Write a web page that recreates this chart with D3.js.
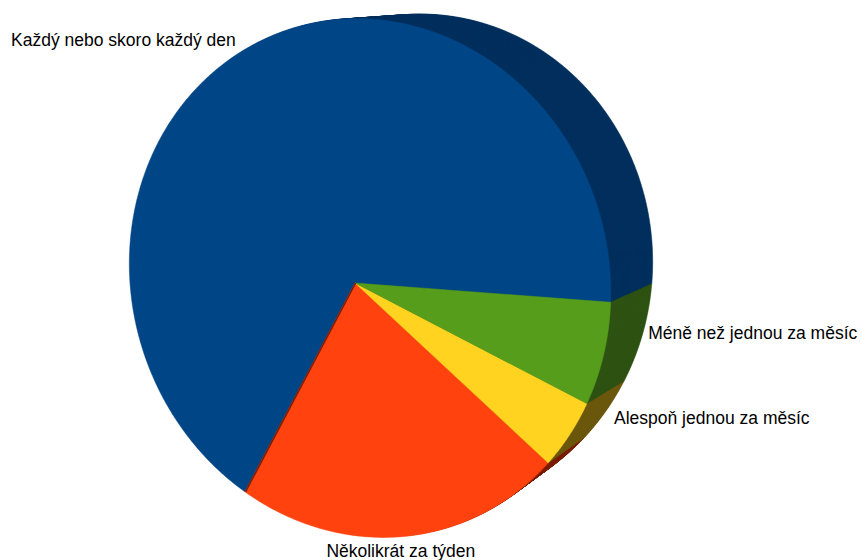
<!DOCTYPE html>
<html>
<head>
<meta charset="utf-8">
<script src="https://cdn.jsdelivr.net/npm/d3@7"></script>
<style>
  html, body { margin: 0; padding: 0; background: #ffffff; }
  svg { display: block; }
</style>
</head>
<body>
<svg id="chart" width="862" height="560"></svg>
<script>
// Answer categories and their shares (%)
const categories = [
  "Každý nebo skoro každý den",
  "Několikrát za týden",
  "Alespoň jednou za měsíc",
  "Méně než jednou za měsíc"
];
const shares = [67.2, 22.2, 4.4, 6.2];
const faceColors = ["#004586", "#ff420e", "#ffd320", "#579d1c"];
const sideColors = ["#022f5d", "#7a1f06", "#6b580e", "#2e5213"];

// Geometry of the tilted 3D disc
const cx = 355, cy = 283, radius = 261;
const tiltY = 23.5 * Math.PI / 180;   // turn about the vertical axis
const tiltX = 7.5 * Math.PI / 180;    // turn about the horizontal axis
const persp = 0.16;                   // radius / camera distance
const layers = 40;

// Back face = affine image of the front face (receding up and to the right)
const back = { a: 0.9663, c: -0.0458, e: 75.5, b: -0.0063, d: 0.9567, f: -1.5 };
function toBack(p) {
  return [back.a * p[0] + back.c * p[1] + back.e,
          back.b * p[0] + back.d * p[1] + back.f];
}

// Project a point of the unit disc (angle clockwise from 3 o'clock, radial fraction r)
function project(theta, r) {
  const lx = r * Math.cos(theta), ly = r * Math.sin(theta);
  const y1 = ly * Math.cos(tiltX), z1 = -ly * Math.sin(tiltX);
  const x2 = lx * Math.cos(tiltY) - z1 * Math.sin(tiltY);
  const z2 = lx * Math.sin(tiltY) + z1 * Math.cos(tiltY);
  const k = 1 / (1 - z2 * persp);
  return [cx + radius * x2 * k, cy + radius * y1 * k];
}
const toTheta = a => a - Math.PI / 2;   // d3.pie angle -> screen angle

const data = categories.map((c, i) => ({ name: c, value: shares[i], i }));
const start = (4 + 90) * Math.PI / 180;
const pie = d3.pie().sort(null).value(d => d.value)
  .startAngle(start).endAngle(start - 2 * Math.PI);
const arcs = pie(data);

const line = d3.line();
// Outline of a slice at depth t (0 = front face, 1 = back face)
function slicePoints(d, t) {
  const n = Math.max(2, Math.ceil(Math.abs(d.endAngle - d.startAngle) / (Math.PI / 360)));
  const raw = [[cx, cy]];
  for (let j = 0; j <= n; j++) {
    const a = d.startAngle + (d.endAngle - d.startAngle) * j / n;
    raw.push(project(toTheta(a), 1));
  }
  if (t === 0) return raw;
  return raw.map(p => {
    const q = toBack(p);
    return [p[0] + (q[0] - p[0]) * t, p[1] + (q[1] - p[1]) * t];
  });
}

const svg = d3.select("#chart");

// Extruded body: stacked copies from the back face forward
const body = svg.append("g").attr("class", "body");
for (let s = layers; s >= 1; s--) {
  const t = s / layers;
  body.append("g").selectAll("path")
    .data(arcs)
    .join("path")
    .attr("d", d => line(slicePoints(d, t)) + "Z")
    .attr("fill", d => sideColors[d.data.i])
    .attr("stroke", d => sideColors[d.data.i])
    .attr("stroke-width", 0.6);
}

// Front faces
svg.append("g").attr("class", "faces").selectAll("path")
  .data(arcs)
  .join("path")
  .attr("d", d => line(slicePoints(d, 0)) + "Z")
  .attr("fill", d => faceColors[d.data.i])
  .attr("stroke", d => faceColors[d.data.i])
  .attr("stroke-width", 0.5);

// Dark wall edge along the leading side of the second slice
const edgeSlice = arcs[1];
const edgeEnd = project(toTheta(edgeSlice.startAngle), 1);
svg.append("line")
  .attr("x1", cx + 0.6).attr("y1", cy)
  .attr("x2", edgeEnd[0] + 0.6).attr("y2", edgeEnd[1])
  .attr("stroke", sideColors[1])
  .attr("stroke-width", 1.6);

// Labels
svg.append("g").attr("class", "labels").selectAll("text")
  .data(arcs)
  .join("text")
  .each(function (d) {
    const th = toTheta((d.startAngle + d.endAngle) / 2);
    const p = project(th, 1);
    const c = Math.cos(th), sn = Math.sin(th);
    let x, y, anchor;
    if (c > 0.4) {            // right side: beyond the visible depth
      x = p[0] + 44.5; y = p[1] - 20 + 16.7 * sn; anchor = "start";
    } else if (sn > 0.7) {    // bottom
      x = p[0]; y = p[1] + 20; anchor = "middle";
    } else {                  // upper left
      x = p[0]; y = p[1] - 9; anchor = "end";
    }
    d3.select(this).attr("x", x).attr("y", y).attr("text-anchor", anchor);
  })
  .attr("font-family", "'Liberation Sans', Arial, sans-serif")
  .attr("font-size", 17.5)
  .attr("fill", "#000")
  .text(d => d.data.name);
</script>
</body>
</html>
